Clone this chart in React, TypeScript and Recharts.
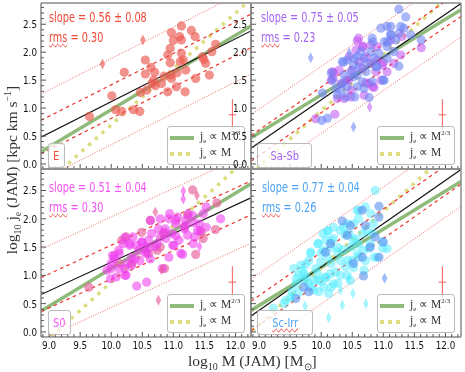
import {
  ErrorBar,
  ReferenceLine,
  Scatter,
  ScatterChart,
  XAxis,
  YAxis,
} from "recharts";

type Pt = number[];

const xDomain = [8.87, 12.25];
const yDomain = [-0.09, 2.88];
const xTicks = [8.9, 9, 9.1, 9.2, 9.3, 9.4, 9.5, 9.6, 9.7, 9.8, 9.9, 10, 10.1, 10.2, 10.3, 10.4, 10.5, 10.6, 10.7, 10.8, 10.9, 11, 11.1, 11.2, 11.3, 11.4, 11.5, 11.6, 11.7, 11.8, 11.9, 12, 12.1, 12.2];
const yTicks = [0, 0.1, 0.2, 0.3, 0.4, 0.5, 0.6, 0.7, 0.8, 0.9, 1, 1.1, 1.2, 1.3, 1.4, 1.5, 1.6, 1.7, 1.8, 1.9, 2, 2.1, 2.2, 2.3, 2.4, 2.5, 2.6, 2.7, 2.8];
const majorX = [9, 9.5, 10, 10.5, 11, 11.5, 12];
const majorY = [0, 0.5, 1, 1.5, 2, 2.5];

// E
const eCircles: Pt[] = [[9.65,0.85],[10.01,1.22],[10.07,0.97],[10.17,0.94],[10.21,1.64],[10.36,0.97],[10.46,0.94],[10.47,1.28],[10.55,1.86],[10.55,1.61],[10.57,1.32],[10.64,1.73],[10.66,1.44],[10.7,1.64],[10.68,1.5],[10.71,1.4],[10.81,1.44],[10.85,1.57],[10.91,1.29],[10.91,1.95],[10.95,2.07],[10.95,1.81],[10.97,2.35],[10.97,1.53],[10.96,1.59],[11,2.21],[11.05,1.38],[11.06,1.63],[11.1,2.28],[11.13,2.47],[11.13,2.22],[11.13,1.98],[11.11,1.83],[11.16,1.86],[11.19,1.29],[11.2,1.68],[11.29,2.39],[11.35,2.28],[11.36,1.53],[11.47,1.92],[11.49,1.87],[11.52,1.8],[11.58,1.59],[11.62,2.01],[11.68,2.14]];
const eDiamonds: Pt[] = [[9.86,1.79],[10.51,2.22]];
const eFit = [8.87, 0.48, 12.25, 2.38];
const eTwoThirds = [8.87, 0.22, 12.25, 2.47];
const eUnity = [9.2, -0.1, 12.25, 2.95];
const eDashed = [0.3, -0.3];
const eDotted = [0.77, -0.77];

// Sa-Sb
const saBlue: Pt[] = [[10.01,0.78],[10.1,0.82],[10.02,1.27],[10.16,1.63],[10.18,1.5],[10.24,1.35],[10.26,1.23],[10.34,1.83],[10.42,1.86],[10.42,1.38],[10.34,1.44],[10.4,1.2],[10.54,1.2],[10.52,1.56],[10.58,1.92],[10.61,1.74],[10.64,2.01],[10.69,1.89],[10.72,1.65],[10.66,1.47],[10.69,1.35],[10.77,1.19],[10.82,2.25],[10.8,2.01],[10.85,1.89],[10.9,1.74],[10.82,1.47],[11.01,1.5],[10.96,2.43],[11.06,2.46],[11.12,2.46],[11.02,2.19],[11.06,2.1],[11.12,2.31],[11.2,2.22],[11.28,2.46],[11.25,2.34],[11.36,2.63],[11.25,2.77],[11.33,2.43],[11.44,2.31],[11.61,2.22],[11.25,1.75],[10.48,1.65],[10.53,1.89],[10.58,1.59],[10.74,1.8],[10.93,1.98],[11.17,2.01],[11.06,1.89],[10.37,1.59],[10.32,1.32],[10.58,1.38],[10.83,2.18],[11.07,2.18],[11.12,2.31],[10.36,1.82],[10.88,1.74],[11,1.5],[10.52,1.77]];
const saPurple: Pt[] = [[9.91,0.81],[10.22,0.89],[10.16,1.5],[10.18,1.65],[10.29,1.68],[10.32,1.44],[10.37,1.17],[10.26,1.17],[10.5,1.68],[10.58,2.2],[10.67,2.11],[10.56,2.04],[10.8,2.13],[10.72,1.92],[10.8,1.8],[10.88,1.65],[10.85,1.37],[10.77,1.44],[10.69,1.23],[10.61,1.83],[10.45,1.92],[10.9,2.1],[10.98,1.77],[11.06,1.65],[11.17,1.8],[11.28,1.95],[11.61,2.08],[11.12,2.22],[11.3,2.28],[10.4,1.5],[10.48,1.32],[10.9,1.86],[10.66,1.71],[10.96,1.5],[10.6,2.25],[10.67,2.09],[10.2,1.63],[10.19,1.54],[10.44,1.5],[10.72,1.45],[10.83,1.38],[10.48,1.2],[11,1.81]];
const saBlueDiamonds: Pt[] = [[9.83,1.9],[10.45,1.99],[10.52,0.66]];
const saPurpleDiamonds: Pt[] = [[10.78,1.02]];
const saFit = [8.87, 0.28, 12.25, 2.87];
const saTwoThirds = [8.87, 0.47, 12.25, 2.76];
const saUnity = [8.95, -0.1, 12.25, 3.2];
const saDashed = [0.23, -0.23];
const saDotted = [0.6, -0.6];

// S0
const s0Magenta: Pt[] = [[10.41,0.81],[10.57,0.88],[9.99,0.94],[10,1.12],[9.93,1.09],[10.05,1.29],[10.02,1.35],[10.13,1.39],[10.08,0.97],[10.22,1.12],[10.24,1],[10.33,1.18],[10.38,1.29],[10.44,1.44],[10.3,1.53],[10.49,1.59],[10.55,1.5],[10.6,1.62],[10.57,1.41],[10.65,1.74],[10.76,1.82],[10.79,1.68],[10.87,1.82],[10.93,2],[11.04,1.91],[11.07,2.03],[11.01,1.53],[11.15,1.37],[11.18,1.82],[11.2,1.97],[11.31,2.06],[11.42,1.91],[11.34,1.68],[11.48,2.09],[11.53,2.21],[11.76,2],[11.53,1.85],[11.23,1.71],[10.93,1.32],[10.82,1.12],[10.46,1.26],[10.71,1.5],[10.19,1.56],[10.35,1.68],[10.98,1.74],[11.09,1.62],[11.39,1.79],[10.63,1.29],[10.05,1.35],[10.12,1.44],[10.22,1.67],[10.3,1.56],[10.41,1.53],[10.5,1.58],[10.61,1.49],[10.74,1.56],[10.63,1.97],[10.79,2],[10.86,1.76],[10.88,1.65],[10.99,1.53],[11.04,1.7],[11.12,1.39],[11.04,1.97],[11.19,1.88],[11.24,2.09],[11.32,1.93],[11.43,1.79],[10,1.21],[10.13,1.12],[10.25,1.21],[10.33,1.32],[10.55,1.39],[10.22,1],[10.94,2.09],[11.32,1.56]];
const s0Pink: Pt[] = [[9.64,0.79],[10.17,1.62],[10.24,1.68],[10.49,1.76],[10.63,1.97],[10.6,1.38],[10.74,1.44],[10.86,1.12],[10.84,1.74],[11.31,2.51],[11.7,2.28],[11.36,1.37],[11.45,1.76],[11.48,1.65],[11.68,1.81],[11.23,2.06],[10.79,1.5],[10.33,1.21],[10.13,1.21],[11.18,1.85]];
const s0MagentaDiamonds: Pt[] = [[11.16,2.49],[11.16,2.35],[11.42,1.51]];
const s0PinkDiamonds: Pt[] = [[11.38,2.41],[10.71,2.12],[10.76,0.56],[10.81,1.1]];
const s0Fit = [8.87, 0.66, 12.25, 2.37];
const s0TwoThirds = [8.87, 0.37, 12.25, 2.62];
const s0Unity = [9.03, -0.09, 12.25, 3.13];
const s0Dashed = [0.3, -0.3];
const s0Dotted = [0.8, -0.8];

// Sc-Irr
const scCyan: Pt[] = [[9.23,0.42],[9.43,0.56],[9.53,0.71],[9.59,0.85],[9.64,1],[9.7,1.09],[9.76,0.97],[9.83,1.41],[9.95,1.56],[10.1,1.78],[10.07,1.62],[10.15,1.5],[9.99,1.24],[9.91,1.12],[9.88,0.91],[9.96,0.71],[10.04,0.79],[10.12,0.68],[10.2,0.85],[10.31,1],[10.39,1.15],[10.5,1.26],[10.23,1.06],[10.47,0.91],[10.26,1.41],[10.39,1.71],[10.55,1.65],[10.74,1.79],[10.87,2.5],[10.6,2.15],[10.71,2.21],[10.84,1.91],[10.68,1.44],[10.79,1.56],[11.06,1.47],[10.98,1.59],[10.9,1.32],[10.42,1.91],[10.31,1.79],[10.52,1.91],[10.1,1.32],[9.8,1.26],[9.72,0.91],[10.15,1.03],[10.31,1.26],[10.58,1.38],[10.47,1.5],[10.07,0.97],[9.94,1.03],[10.71,1.26],[9.83,0.79],[10.42,1],[9.6,0.95],[10,1.4],[10.2,1.65],[10.35,1.45],[10.6,1.55],[9.75,1.2],[10,0.9],[10.58,2.15],[10.8,2.09],[10.6,2],[10.11,1.79],[10.03,1.74],[10.2,1.85],[10.36,1.85],[10.45,1.74],[10.16,1.62],[9.95,1.56],[9.83,1.39],[10.04,1.44],[10.27,1.49],[10.52,1.62],[10.67,1.74],[10.83,1.74],[10.77,1.48],[10.6,1.32],[10.85,1.32],[10.99,1.48],[9.67,1.18],[9.56,1.12],[10.16,1.21],[10.43,1.27],[9.51,0.61],[9.64,0.7],[9.79,0.86],[9.95,0.91],[10.08,0.96],[10.16,0.79],[10.27,0.86],[9.88,0.74],[9.4,0.5],[10.52,1.14],[10.69,1.09],[9.72,1.03]];
const scBlue: Pt[] = [[10.34,1.96],[10.47,1.88],[10.66,2.15],[10.93,2.22],[10.93,2.03],[10.71,1.88],[10.42,1.71],[10.15,1.56],[10.07,1.41],[10.66,1.32],[10.93,1.32],[10.68,0.99],[9.72,0.79],[9.8,0.71],[9.59,0.59],[10.52,1.21],[10.79,1.5],[10.87,1.68],[11,1.59]];
const scCyanDiamonds: Pt[] = [[9.53,0.62],[9.74,0.46],[10.12,0.25],[10.34,0.47],[10.51,0.68],[10.72,0.5],[10.31,0.74],[10.44,0.94]];
const scBlueDiamonds: Pt[] = [[11.02,0.95]];
const scFit = [8.87, 0.28, 12.25, 2.87];
const scTwoThirds = [8.87, 0.38, 12.25, 2.66];
const scUnity = [8.78, -0.09, 12.25, 3.38];
const scDashed = [0.26, -0.26];
const scDotted = [0.65, -0.65];

const errorCross = [{ x: 11.95, y: 0.88, ex: 0.06, ey: 0.28 }];

const SERIF = "'Liberation Serif', serif";
const SANS = "'DejaVu Sans', sans-serif";
const TICK = "#555";
const LEFT = 30;
const BOTTOM = 16;

const toRows = (pts: Pt[]) => pts.map(([x, y]) => ({ x, y }));

const circle = (fill: string, opacity: number) => (p: any) => (
  <circle cx={p.cx} cy={p.cy} r={4.6} fill={fill} fillOpacity={opacity} />
);
const diamond = (fill: string, opacity: number) => (p: any) => (
  <polygon
    points={`${p.cx},${p.cy - 5.5} ${p.cx + 2.8},${p.cy} ${p.cx},${p.cy + 5.5} ${p.cx - 2.8},${p.cy}`}
    fill={fill}
    fillOpacity={opacity}
  />
);

function TickText({ x, y, anchor, label }: any) {
  return (
    <text
      x={x}
      y={y}
      textAnchor={anchor}
      fontSize={11}
      fontFamily={SANS}
      fill="#111"
      textLength={label.length === 3 ? 14 : 19.5}
      lengthAdjust="spacingAndGlyphs"
    >
      {label}
    </text>
  );
}

function Panel(props: any) {
  const { left, top, width, height, showX, showY, groups, fit, twoThirds, unity, dashed, dotted } = props;

  const bottomTick = ({ x, y, payload }: any) => {
    const major = majorX.includes(payload.value);
    return (
      <g>
        <line x1={x} x2={x} y1={y} y2={y - (major ? 5 : 3)} stroke={TICK} />
        {showX && major && <TickText x={x} y={y + 12} anchor="middle" label={payload.value.toFixed(1)} />}
      </g>
    );
  };
  const topTick = ({ x, y, payload }: any) => (
    <line x1={x} x2={x} y1={y} y2={y + (majorX.includes(payload.value) ? 5 : 3)} stroke={TICK} />
  );
  const leftTick = ({ x, y, payload }: any) => {
    const major = majorY.includes(payload.value);
    return (
      <g>
        <line x1={x} x2={x + (major ? 5 : 3)} y1={y} y2={y} stroke={TICK} />
        {showY && major && <TickText x={x - 4} y={y + 4} anchor="end" label={payload.value.toFixed(1)} />}
      </g>
    );
  };
  const rightTick = ({ x, y, payload }: any) => (
    <line x1={x} x2={x - (majorY.includes(payload.value) ? 5 : 3)} y1={y} y2={y} stroke={TICK} />
  );

  const seg = (l: number[], off = 0) => [
    { x: l[0], y: l[1] + off },
    { x: l[2], y: l[3] + off },
  ];
  const frame = { stroke: "#8a8a8a", strokeWidth: 1.5 };
  const axisBase = { type: "number", interval: 0, tickLine: false, tickSize: 0, tickMargin: 0, axisLine: frame } as const;

  return (
    <div style={{ position: "absolute", left: left - LEFT, top: top - 2 }}>
      <ScatterChart
        width={width + LEFT + 2}
        height={height + 2 + BOTTOM}
        margin={{ top: 1, right: 1, bottom: BOTTOM - 1, left: LEFT - 1 }}
      >
        <XAxis {...axisBase} dataKey="x" domain={xDomain} ticks={xTicks} height={1} tick={bottomTick} />
        <XAxis {...axisBase} xAxisId="top" orientation="top" dataKey="x" domain={xDomain} ticks={xTicks} height={1} tick={topTick} />
        <YAxis {...axisBase} dataKey="y" domain={yDomain} ticks={yTicks} width={1} tick={leftTick} />
        <YAxis {...axisBase} yAxisId="right" orientation="right" dataKey="y" domain={yDomain} ticks={yTicks} width={1} tick={rightTick} />

        {groups.map((g: any, i: number) => (
          <Scatter
            key={i}
            data={toRows(g.points)}
            shape={g.diamond ? diamond(g.fill, g.opacity) : circle(g.fill, g.opacity)}
            isAnimationActive={false}
          />
        ))}

        <ReferenceLine segment={seg(twoThirds)} stroke="#8fbb7a" strokeWidth={3.5} ifOverflow="hidden" />
        <ReferenceLine segment={seg(unity)} stroke="#dcdc80" strokeWidth={3.5} strokeDasharray="3.5 5.5" ifOverflow="hidden" />
        <ReferenceLine segment={seg(fit)} stroke="#111" strokeWidth={1.2} ifOverflow="hidden" />
        {dashed.map((d: number) => (
          <ReferenceLine key={d} segment={seg(fit, d)} stroke="#f03028" strokeWidth={1.2} strokeDasharray="3.5 3.5" ifOverflow="hidden" />
        ))}
        {dotted.map((d: number) => (
          <ReferenceLine key={d} segment={seg(fit, d)} stroke="#f06a62" strokeWidth={1} strokeDasharray="1 1.5" ifOverflow="hidden" />
        ))}

        <Scatter data={errorCross} shape={() => <g />} isAnimationActive={false}>
          <ErrorBar dataKey="ey" direction="y" width={0} stroke="#f0605a" strokeWidth={1} />
          <ErrorBar dataKey="ex" direction="x" width={0} stroke="#f0605a" strokeWidth={1} />
        </Scatter>
      </ScatterChart>
    </div>
  );
}

function LegendBox({ left, top }: { left: number; top: number }) {
  const row = { position: "absolute", left: 32, fontFamily: SERIF, fontSize: 11.5, color: "#333", whiteSpace: "nowrap" } as const;
  return (
    <div style={{ position: "absolute", left, top, width: 76, height: 37, border: "1px solid #bbb", borderRadius: 3, background: "rgba(255,255,255,0.75)" }}>
      <div style={{ position: "absolute", left: 2, top: 9, width: 24, height: 3.5, background: "#8fbb7a" }} />
      <div style={{ ...row, top: 2 }}>
        j<sub style={{ fontSize: 7 }}>e</sub> ∝ M<sup style={{ fontSize: 7, lineHeight: 0 }}>2/3</sup>
      </div>
      {[2, 10, 18].map((x) => (
        <div key={x} style={{ position: "absolute", left: x, top: 25, width: 4, height: 3.5, background: "#dcdc80" }} />
      ))}
      <div style={{ ...row, top: 18 }}>
        j<sub style={{ fontSize: 7 }}>e</sub> ∝ M
      </div>
    </div>
  );
}

function Stats({ left, top, color, slope, rms }: any) {
  const s = { position: "absolute", left, color, fontFamily: SANS, fontSize: 13.5, whiteSpace: "nowrap", transform: "scaleX(0.72)", transformOrigin: "left center" } as const;
  return (
    <>
      <div style={{ ...s, top }}>slope = {slope}</div>
      <div style={{ ...s, top: top + 20 }}>
        <span style={{ textDecoration: "underline wavy #f03030 1px" }}>rms</span> = {rms}
      </div>
    </>
  );
}

function TypeBox({ left, top, width, color, label, wavy }: any) {
  return (
    <div style={{ position: "absolute", left, top, width, height: 23, border: "1px solid #bbb", borderRadius: 3, background: "rgba(255,255,255,0.75)", color, fontFamily: SANS, fontSize: 13, lineHeight: "23px", textAlign: "center" }}>
      <span style={{ display: "inline-block", transform: "scaleX(0.76)", textDecoration: wavy ? "underline wavy #f03030 1px" : "none" }}>{label}</span>
    </div>
  );
}

export default function App() {
  return (
    <div style={{ position: "absolute", left: 0, top: 0, width: 465, height: 372, background: "#fff", overflow: "hidden", filter: "blur(0.3px)" }}>
      <Panel left={41} top={3} width={210} height={166} showY
        groups={[
          { points: eCircles, fill: "#ec5a52", opacity: 0.66 },
          { points: eDiamonds, fill: "#ec5a52", opacity: 0.66, diamond: true },
        ]}
        fit={eFit} twoThirds={eTwoThirds} unity={eUnity} dashed={eDashed} dotted={eDotted} />
      <Panel left={41} top={169} width={210} height={168} showX showY
        groups={[
          { points: s0Pink, fill: "#e8609a", opacity: 0.65 },
          { points: s0Magenta, fill: "#ee3cee", opacity: 0.58 },
          { points: s0PinkDiamonds, fill: "#e8609a", opacity: 0.65, diamond: true },
          { points: s0MagentaDiamonds, fill: "#ee3cee", opacity: 0.58, diamond: true },
        ]}
        fit={s0Fit} twoThirds={s0TwoThirds} unity={s0Unity} dashed={s0Dashed} dotted={s0Dotted} />
      <LegendBox left={167} top={126} />
      <LegendBox left={167} top={294} />

      <Panel left={251} top={3} width={210} height={166} showY
        groups={[
          { points: saPurple, fill: "#c050f0", opacity: 0.55 },
          { points: saBlue, fill: "#6f86f5", opacity: 0.6 },
          { points: saPurpleDiamonds, fill: "#c050f0", opacity: 0.55, diamond: true },
          { points: saBlueDiamonds, fill: "#6f86f5", opacity: 0.6, diamond: true },
        ]}
        fit={saFit} twoThirds={saTwoThirds} unity={saUnity} dashed={saDashed} dotted={saDotted} />
      <Panel left={251} top={169} width={210} height={168} showX
        groups={[
          { points: scCyan, fill: "#50eeff", opacity: 0.5 },
          { points: scBlue, fill: "#5a90f0", opacity: 0.6 },
          { points: scCyanDiamonds, fill: "#50eeff", opacity: 0.5, diamond: true },
          { points: scBlueDiamonds, fill: "#5a90f0", opacity: 0.6, diamond: true },
        ]}
        fit={scFit} twoThirds={scTwoThirds} unity={scUnity} dashed={scDashed} dotted={scDotted} />

      <Stats left={49} top={9} color="#f04a38" slope="0.56 ± 0.08" rms="0.30" />
      <Stats left={261} top={9} color="#a566f2" slope="0.75 ± 0.05" rms="0.23" />
      <Stats left={49} top={179} color="#f255f2" slope="0.51 ± 0.04" rms="0.30" />
      <Stats left={262} top={179} color="#4fa4f5" slope="0.77 ± 0.04" rms="0.26" />

      <TypeBox left={48} top={143} width={15} color="#f04a38" label="E" />
      <TypeBox left={257} top={143} width={53} color="#a566f2" label="Sa-Sb" />
      <TypeBox left={48} top={310} width={21} color="#f255f2" label="S0" />
      <TypeBox left={257} top={310} width={54} color="#4fa4f5" label="Sc-Irr" wavy />

      <LegendBox left={377} top={126} />
      <LegendBox left={377} top={294} />

      <div style={{ position: "absolute", left: 188, top: 352, fontFamily: SERIF, fontSize: 15.5, color: "#333", whiteSpace: "nowrap" }}>
        log<sub style={{ fontSize: 10, lineHeight: 0 }}>10</sub> M (JAM) [M<sub style={{ fontSize: 10, lineHeight: 0 }}>⊙</sub>]
      </div>
      <div style={{ position: "absolute", left: 12, top: 170, fontFamily: SERIF, fontSize: 15.5, color: "#333", whiteSpace: "nowrap", transform: "translate(-50%, -50%) rotate(-90deg)" }}>
        log<sub style={{ fontSize: 10, lineHeight: 0 }}>10</sub> j<sub style={{ fontSize: 10, lineHeight: 0 }}>e</sub> (JAM) [kpc km s<sup style={{ fontSize: 10, lineHeight: 0 }}>−1</sup>]
      </div>
    </div>
  );
}
